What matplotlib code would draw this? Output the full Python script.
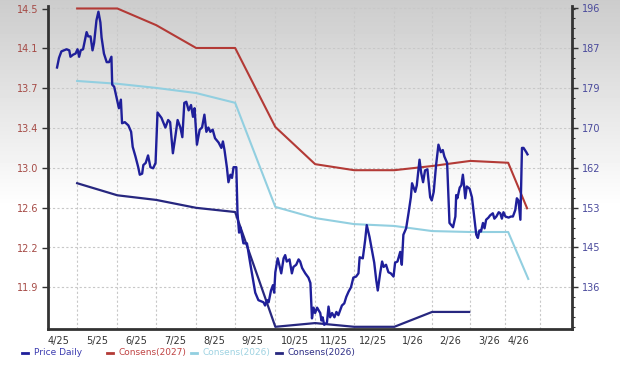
import matplotlib
matplotlib.use("Agg")
import matplotlib.pyplot as plt
import numpy as np
from matplotlib.lines import Line2D
from matplotlib.ticker import FixedLocator, AutoMinorLocator

# eje x en meses (0 = etiqueta 4/25)
x_labels = ["4/25", "5/25", "6/25", "7/25", "8/25", "9/25", "10/25",
            "11/25", "12/25", "1/26", "2/26", "3/26", "4/26"]
x_label_pos = [0, 0.99, 1.98, 2.97, 3.96, 4.92, 6.02, 7.01, 8.00, 9.01, 9.95, 10.94, 11.68]
x_grid_pos = [0.48, 1.50, 2.49, 3.50, 4.49, 5.51, 6.52, 7.51, 8.53, 9.49, 10.46, 11.35, 12.23]

# eje izquierdo (precio) y derecho (consenso)
price_ticks = [11.9, 12.271, 12.643, 13.014, 13.386, 13.757, 14.129, 14.5]
price_tick_labels = ["11.9", "12.2", "12.6", "13.0", "13.4", "13.7", "14.1", "14.5"]
cons_ticks = [136, 144.57, 153.14, 161.71, 170.29, 178.86, 187.43, 196]
cons_tick_labels = ["136", "145", "153", "162", "170", "179", "187", "196"]

price_x = [
    -0.03, 0.02, 0.08, 0.21, 0.28, 0.31, 0.38, 0.44, 0.49, 0.53,
    0.57, 0.63, 0.68, 0.72, 0.76, 0.82, 0.87, 0.91, 0.97, 1.02,
    1.07, 1.10, 1.16, 1.23, 1.29, 1.35, 1.37, 1.42, 1.48, 1.54,
    1.59, 1.62, 1.69, 1.78, 1.85, 1.89, 1.96, 2.03, 2.07, 2.13,
    2.16, 2.22, 2.28, 2.34, 2.41, 2.47, 2.52, 2.62, 2.72, 2.79,
    2.84, 2.91, 2.97, 3.03, 3.10, 3.15, 3.20, 3.25, 3.31, 3.37,
    3.42, 3.46, 3.52, 3.59, 3.65, 3.71, 3.76, 3.81, 3.86, 3.92,
    3.98, 4.07, 4.14, 4.18, 4.22, 4.28, 4.32, 4.37, 4.41, 4.45,
    4.52, 4.55, 4.59, 4.62, 4.66, 4.70, 4.79, 4.87, 5.00, 5.08,
    5.21, 5.25, 5.30, 5.34, 5.40, 5.45, 5.48, 5.51, 5.57, 5.61,
    5.66, 5.72, 5.76, 5.80, 5.87, 5.93, 5.97, 6.04, 6.10, 6.14,
    6.19, 6.27, 6.35, 6.40, 6.44, 6.48, 6.52, 6.57, 6.65, 6.68,
    6.71, 6.75, 6.82, 6.86, 6.90, 6.95, 7.01, 7.06, 7.11, 7.20,
    7.26, 7.31, 7.37, 7.43, 7.49, 7.56, 7.62, 7.65, 7.73, 7.79,
    7.83, 7.90, 7.96, 8.02, 8.07, 8.11, 8.17, 8.22, 8.26, 8.32,
    8.38, 8.44, 8.51, 8.55, 8.61, 8.68, 8.72, 8.76, 8.83, 8.89,
    8.95, 8.98, 9.02, 9.06, 9.10, 9.17, 9.21, 9.26, 9.31, 9.37,
    9.44, 9.48, 9.53, 9.59, 9.65, 9.71, 9.76, 9.80, 9.87, 9.93,
    10.02, 10.08, 10.10, 10.13, 10.19, 10.23, 10.27, 10.30, 10.33, 10.37,
    10.44, 10.50, 10.56, 10.61, 10.65, 10.69, 10.73, 10.78, 10.82, 10.86,
    10.92, 10.96, 11.03, 11.07, 11.12, 11.18, 11.22, 11.26, 11.30, 11.35,
    11.43, 11.49, 11.54, 11.60, 11.64, 11.68, 11.73, 11.77, 11.81, 11.88, 11.91,
]
price_y = [
    13.95, 14.04, 14.10, 14.12, 14.11, 14.05, 14.07, 14.08, 14.12, 14.05,
    14.11, 14.12, 14.21, 14.28, 14.24, 14.24, 14.11, 14.18, 14.39, 14.47,
    14.37, 14.23, 14.08, 14.00, 14.00, 14.05, 13.79, 13.77, 13.67, 13.57,
    13.65, 13.43, 13.44, 13.41, 13.35, 13.21, 13.12, 13.02, 12.95, 12.96,
    13.04, 13.06, 13.13, 13.02, 13.01, 13.06, 13.53, 13.48, 13.39, 13.46,
    13.44, 13.15, 13.30, 13.46, 13.39, 13.30, 13.62, 13.63, 13.55, 13.60,
    13.49, 13.57, 13.23, 13.37, 13.39, 13.51, 13.35, 13.39, 13.35, 13.37,
    13.29, 13.25, 13.20, 13.26, 13.18, 13.02, 12.88, 12.95, 12.92, 13.02,
    13.02, 12.59, 12.41, 12.46, 12.39, 12.31, 12.31, 12.13, 11.85, 11.78,
    11.76, 11.73, 11.78, 11.76, 11.87, 11.92, 11.85, 12.04, 12.17, 12.11,
    12.03, 12.17, 12.20, 12.14, 12.16, 12.03, 12.09, 12.11, 12.16, 12.14,
    12.08, 12.03, 11.99, 11.94, 11.61, 11.71, 11.66, 11.71, 11.66, 11.59,
    11.62, 11.55, 11.57, 11.72, 11.62, 11.66, 11.62, 11.67, 11.64, 11.73,
    11.75, 11.81, 11.86, 11.90, 11.99, 12.00, 12.03, 12.18, 12.17, 12.34,
    12.48, 12.37, 12.25, 12.13, 11.97, 11.87, 12.03, 12.14, 12.09, 12.11,
    12.04, 12.03, 12.00, 12.13, 12.14, 12.23, 12.11, 12.39, 12.45, 12.59,
    12.74, 12.87, 12.83, 12.79, 12.85, 13.09, 12.97, 12.88, 12.99, 13.00,
    12.74, 12.71, 12.79, 13.04, 13.23, 13.16, 13.18, 13.12, 13.06, 12.50,
    12.46, 12.56, 12.76, 12.73, 12.83, 12.85, 12.95, 12.85, 12.73, 12.84,
    12.82, 12.74, 12.55, 12.39, 12.36, 12.43, 12.42, 12.50, 12.45, 12.53,
    12.55, 12.57, 12.59, 12.54, 12.56, 12.60, 12.59, 12.54, 12.60, 12.56,
    12.55, 12.56, 12.56, 12.62, 12.73, 12.71, 12.53, 13.20, 13.20, 13.16, 13.14,
]

# consensos (eje derecho)
cons27_x = [0.48, 1.50, 2.49, 3.50, 4.49, 5.51, 6.52, 7.51, 8.53, 9.49, 10.46, 11.42, 11.90]
cons27_y = [196.0, 196.0, 192.4, 187.5, 187.5, 170.5, 162.5, 161.2, 161.2, 162.1, 163.2, 162.8, 153.0]

cons26a_x = [0.48, 1.50, 2.49, 3.50, 4.49, 5.51, 6.52, 7.51, 8.53, 9.49, 10.46, 11.42, 11.93]
cons26a_y = [180.4, 179.8, 178.9, 177.8, 175.7, 153.3, 150.9, 149.6, 149.2, 148.1, 147.9, 147.9, 137.8]

cons26b_x = [0.48, 1.50, 2.49, 3.50, 4.49, 5.51, 6.52, 7.51, 8.53, 9.49, 10.43]
cons26b_y = [158.4, 155.8, 154.8, 153.1, 152.2, 127.5, 128.3, 127.5, 127.5, 130.7, 130.7]

c_price = "#1f1f9a"
c_27 = "#b33a36"
c_26a = "#92cfe0"
c_26b = "#27277f"
c_spine = "#333333"

fig = plt.figure(figsize=(6.2, 3.77), dpi=100)

# fondo degradado gris -> blanco
bg = fig.add_axes([0, 0, 1, 1], zorder=-10)
g = np.clip(np.linspace(0, 1, 377) / 0.55, 0, 1)
grad = (0.80 + 0.20 * g)[:, None] * np.ones((1, 10))
bg.imshow(grad, aspect="auto", cmap="gray", vmin=0, vmax=1, extent=[0, 1, 0, 1])
bg.axis("off")

ax = fig.add_axes([0.0774, 0.1265, 0.8452, 0.8563])
ax.patch.set_alpha(0)
axp = ax.twinx()
axp.patch.set_alpha(0)

ax.plot(cons26a_x, cons26a_y, color=c_26a, lw=1.5, zorder=3)
ax.plot(cons27_x, cons27_y, color=c_27, lw=1.5, zorder=3)
ax.plot(cons26b_x, cons26b_y, color=c_26b, lw=1.6, zorder=3)
axp.plot(price_x, price_y, color=c_price, lw=1.7, zorder=4)

ax.set_xlim(-0.26, 13.04)
ax.set_ylim(126.96, 196.43)
axp.set_ylim(11.508, 14.519)

ax.set_xticks(x_label_pos)
ax.set_xticklabels(x_labels)
ax.xaxis.set_minor_locator(FixedLocator(x_grid_pos))
ax.tick_params(axis="x", which="both", length=0, labelsize=7, labelcolor="#333333", pad=5)

ax.yaxis.tick_right()
ax.set_yticks(cons_ticks)
ax.set_yticklabels(cons_tick_labels)
ax.yaxis.set_minor_locator(AutoMinorLocator(4))
ax.tick_params(axis="y", which="major", length=4, width=1, color=c_spine,
               labelsize=7, labelcolor="#4a4a9c", pad=3)
ax.tick_params(axis="y", which="minor", length=2.5, width=0.8, color=c_spine)

axp.yaxis.tick_left()
axp.set_yticks(price_ticks)
axp.set_yticklabels(price_tick_labels)
axp.tick_params(axis="y", which="major", length=4, width=1, color=c_spine,
                labelsize=7, labelcolor="#a54a45", pad=3)

ax.grid(True, which="major", axis="y", color="#c8c8c8", lw=0.8, ls=(0, (2, 2)), zorder=0)
ax.grid(True, which="minor", axis="x", color="#c8c8c8", lw=0.8, ls=(0, (2, 2)), zorder=0)

for s in ["left", "right", "bottom"]:
    ax.spines[s].set_color(c_spine)
    ax.spines[s].set_linewidth(2)
ax.spines["top"].set_visible(False)
for s in axp.spines.values():
    s.set_visible(False)

# leyenda inferior
leg_items = [("Price Daily", c_price, "#3c3cb0"),
             ("Consens(2027)", c_27, "#c04444"),
             ("Consens(2026)", c_26a, "#9fd3e2"),
             ("Consens(2026)", c_26b, "#2e2e86")]
W, H = 620.0, 377.0
for i, (lab, col, tcol) in enumerate(leg_items):
    x0 = 22 + 84.5 * i
    yl = 1 - 352.5 / H
    fig.add_artist(Line2D([x0 / W, (x0 + 6) / W], [yl, yl], color=col, lw=2))
    fig.text((x0 + 12) / W, yl, lab, color=tcol, fontsize=6.5, va="center", ha="left")

fig.savefig("out.png", dpi=100)
